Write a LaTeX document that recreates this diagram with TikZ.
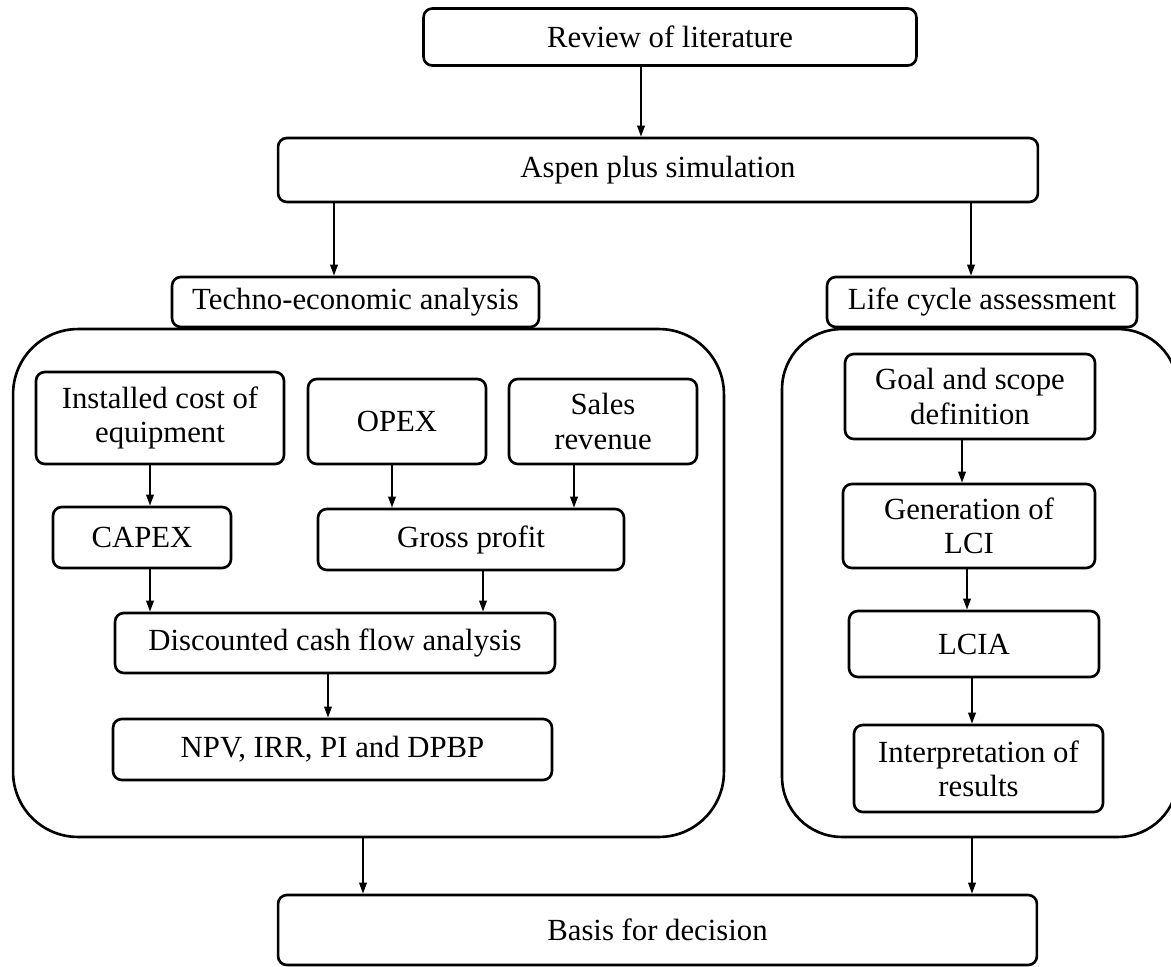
\documentclass[tikz,border=0pt]{standalone}
\usepackage{fontspec}
\setmainfont{Liberation Serif}
\usepackage{tikz}
\usetikzlibrary{arrows.meta,positioning}

\begin{document}
\begin{tikzpicture}[x=0.02cm, y=-0.02cm,
  font=\fontsize{17.5}{19.5}\selectfont,
  box/.style={draw=black, line width=1.5pt, rounded corners=5pt,
              inner sep=0pt, align=center},
  big/.style={draw=black, line width=1.5pt, rounded corners=1.3cm,
              inner sep=0pt},
  arr/.style={-{Triangle[length=2.2mm,width=1.5mm]}, line width=1.1pt}]
\useasboundingbox (0,0) rectangle (1171,967);
% --- main chain ---
\node[box, minimum width=9.86cm, minimum height=1.14cm] (rev) at (670,37) {Review of literature};
\node[box, minimum width=15.2cm, minimum height=1.28cm] (asp) at (658,170) {Aspen plus simulation};
% --- frames ---
\node[big, minimum width=14.22cm, minimum height=10.16cm] (tebox) at (368.5,583) {};
\node[big, rounded corners=1.2cm, minimum width=7.92cm, minimum height=10.16cm] (lcbox) at (980,583) {};
\node[box, fill=white, minimum width=7.34cm, minimum height=1.0cm] (tea) at (355.5,302) {Techno-economic analysis};
\node[box, fill=white, minimum width=6.2cm, minimum height=1.0cm] (lca) at (982,302) {Life cycle assessment};
% --- techno-economic analysis ---
\node[box, minimum width=4.96cm, minimum height=1.84cm] (ice) at (160,418) {Installed cost of\\equipment};
\node[box, minimum width=3.56cm, minimum height=1.7cm] (opx) at (397,421.5) {OPEX};
\node[box, minimum width=3.76cm, minimum height=1.7cm] (sal) at (603,421.5) {Sales\\revenue};
\node[box, minimum width=3.56cm, minimum height=1.22cm] (cpx) at (142,537.5) {CAPEX};
\node[box, minimum width=6.12cm, minimum height=1.22cm] (gpr) at (471,539.5) {Gross profit};
\node[box, minimum width=8.8cm, minimum height=1.2cm] (dcf) at (335,643) {Discounted cash flow analysis};
\node[box, minimum width=8.78cm, minimum height=1.22cm] (npv) at (332.5,749.5) {NPV, IRR, PI and DPBP};
% --- life cycle assessment ---
\node[box, minimum width=5.0cm, minimum height=1.7cm] (gsd) at (970,396.5) {Goal and scope\\definition};
\node[box, minimum width=5.04cm, minimum height=1.68cm] (gen) at (969,526) {Generation of\\LCI};
\node[box, minimum width=5.0cm, minimum height=1.32cm] (lcia) at (974,644) {LCIA};
\node[box, minimum width=4.98cm, minimum height=1.74cm] (itp) at (978.5,768.5) {Interpretation of\\results};
% --- result ---
\node[box, minimum width=15.18cm, minimum height=1.4cm] (bas) at (657.5,930) {Basis for decision};
% --- arrow positions ---
\coordinate (a1) at ([xshift=-0.34cm]asp.north);
\coordinate (a2) at ([xshift=-0.43cm]tea.north);
\coordinate (a3) at ([xshift=-0.22cm]lca.north);
\coordinate (a4) at ([xshift=0.16cm]cpx.north);
\coordinate (a5) at ([xshift=-0.1cm]opx.south);
\coordinate (a6) at ([xshift=-0.58cm]sal.south);
\coordinate (a7) at ([xshift=0.24cm]gpr.south);
\coordinate (a8) at ([xshift=-0.14cm]dcf.south);
\coordinate (a9) at ([xshift=-0.16cm]gsd.south);
\coordinate (a10) at ([xshift=-0.04cm]gen.south);
\coordinate (a11) at ([xshift=-0.04cm]lcia.south);
\coordinate (a12) at ([xshift=-0.11cm]tebox.south);
\coordinate (a13) at ([xshift=-0.16cm]lcbox.south);
% --- arrows ---
\draw[arr] (a1 |- rev.south) -- (a1);
\draw[arr] (a2 |- asp.south) -- (a2);
\draw[arr] (a3 |- asp.south) -- (a3);
\draw[arr] (a4 |- ice.south) -- (a4);
\draw[arr] (a5) -- (a5 |- gpr.north);
\draw[arr] (a6) -- (a6 |- gpr.north);
\draw[arr] (a4 |- cpx.south) -- (a4 |- dcf.north);
\draw[arr] (a7) -- (a7 |- dcf.north);
\draw[arr] (a8) -- (a8 |- npv.north);
\draw[arr] (a9) -- (a9 |- gen.north);
\draw[arr] (a10) -- (a10 |- lcia.north);
\draw[arr] (a11) -- (a11 |- itp.north);
\draw[arr] (a12) -- (a12 |- bas.north);
\draw[arr] (a13) -- (a13 |- bas.north);
\end{tikzpicture}
\end{document}
